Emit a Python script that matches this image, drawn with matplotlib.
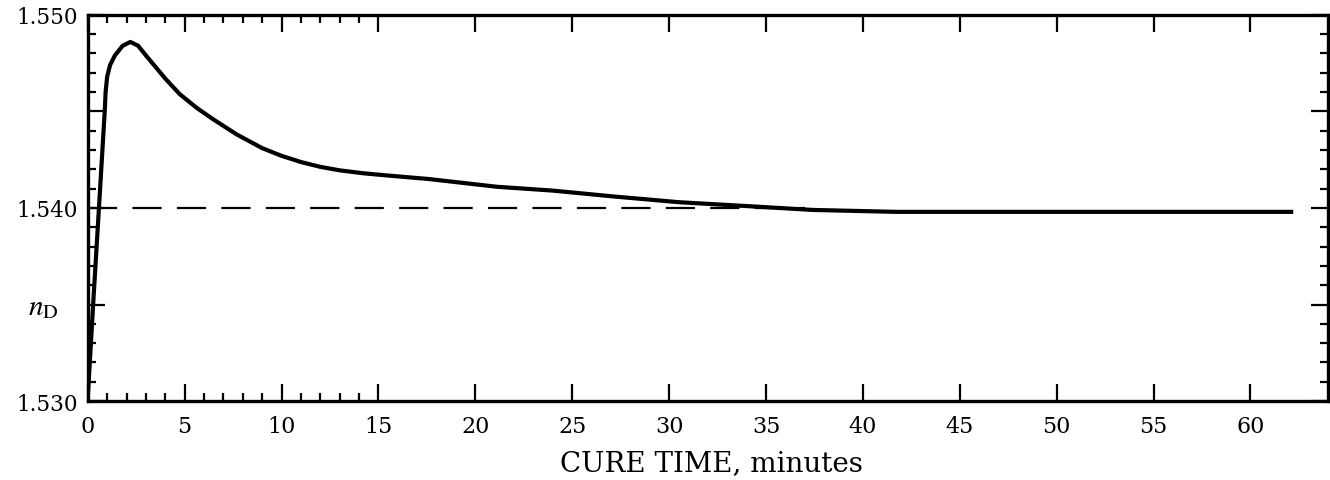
import matplotlib
matplotlib.use('Agg')
import matplotlib.pyplot as plt
from matplotlib.ticker import MultipleLocator

# cure time (minutes) and refractive index
cure_time = [0.0, 0.3, 0.6, 0.88, 0.92, 1.0, 1.15, 1.4, 1.8, 2.2, 2.6, 3.0,
             3.5, 4.0, 4.74, 5.6, 6.46, 7.7, 9.0, 10.0, 11.0, 12.0, 13.0,
             14.2, 15.5, 17.6, 21.1, 24.0, 27.1, 30.5, 34.0, 37.4, 41.7,
             47.0, 52.0, 57.0, 62.1]
n_d = [1.5302, 1.5354, 1.5404, 1.5451, 1.5460, 1.5468, 1.5474, 1.5479,
       1.5484, 1.5486, 1.5484, 1.5479, 1.5473, 1.5467, 1.5459, 1.5452,
       1.5446, 1.5438, 1.5431, 1.5427, 1.54238, 1.54213, 1.54195, 1.5418,
       1.54168, 1.5415, 1.5411, 1.5409, 1.5406, 1.5403, 1.5401, 1.5399,
       1.5398, 1.5398, 1.5398, 1.5398, 1.5398]

# dashed reference level
ref_time = [0.0, 37.0]
ref_level = [1.540, 1.540]

x_major = [0, 5, 10, 15, 20, 25, 30, 35, 40, 45, 50, 55, 60]
x_minor = [1, 2, 3, 4, 6, 7, 8, 9, 11, 12, 13, 14]
y_major = [1.530, 1.535, 1.540, 1.545, 1.550]
y_labels = ['1.530', '', '1.540', '', '1.550']

plt.rcParams['font.family'] = ['DejaVu Serif']
plt.rcParams['mathtext.fontset'] = 'stix'

fig = plt.figure(figsize=(13.3, 4.81), dpi=100)
ax = fig.add_axes([0.066, 0.164, 0.9325, 0.803])

ax.plot(cure_time, n_d, color='black', linewidth=3.0, solid_joinstyle='round')
lw_dash = 1.6
ax.plot(ref_time, ref_level, color='black', linewidth=lw_dash,
        dashes=(21 / lw_dash, 11 / lw_dash))

ax.set_xlim(0, 64)
ax.set_ylim(1.530, 1.550)

ax.set_xticks(x_major)
ax.set_xticklabels([str(v) for v in x_major], fontsize=16)
ax.set_xticks(x_minor, minor=True)
ax.set_yticks(y_major)
ax.set_yticklabels(y_labels, fontsize=15.5)
ax.yaxis.set_minor_locator(MultipleLocator(0.001))

ax.tick_params(which='both', direction='in', top=True, right=True,
               color='black', width=1.6)
ax.tick_params(which='major', length=12)
ax.tick_params(axis='x', which='major', pad=10)
ax.tick_params(axis='y', which='major', pad=7)
ax.tick_params(which='minor', length=6)

for s in ax.spines.values():
    s.set_linewidth(2.4)

ax.set_xlabel('CURE TIME, minutes', fontsize=20)
ax.xaxis.set_label_coords(0.503, -0.158)
ax.xaxis.label.set_va('center')
ax.text(-0.036, 1.5349, r'$n_{\mathrm{D}}$', transform=ax.get_yaxis_transform(),
        fontsize=21, ha='center', va='center')

fig.savefig('out.png', dpi=100)
